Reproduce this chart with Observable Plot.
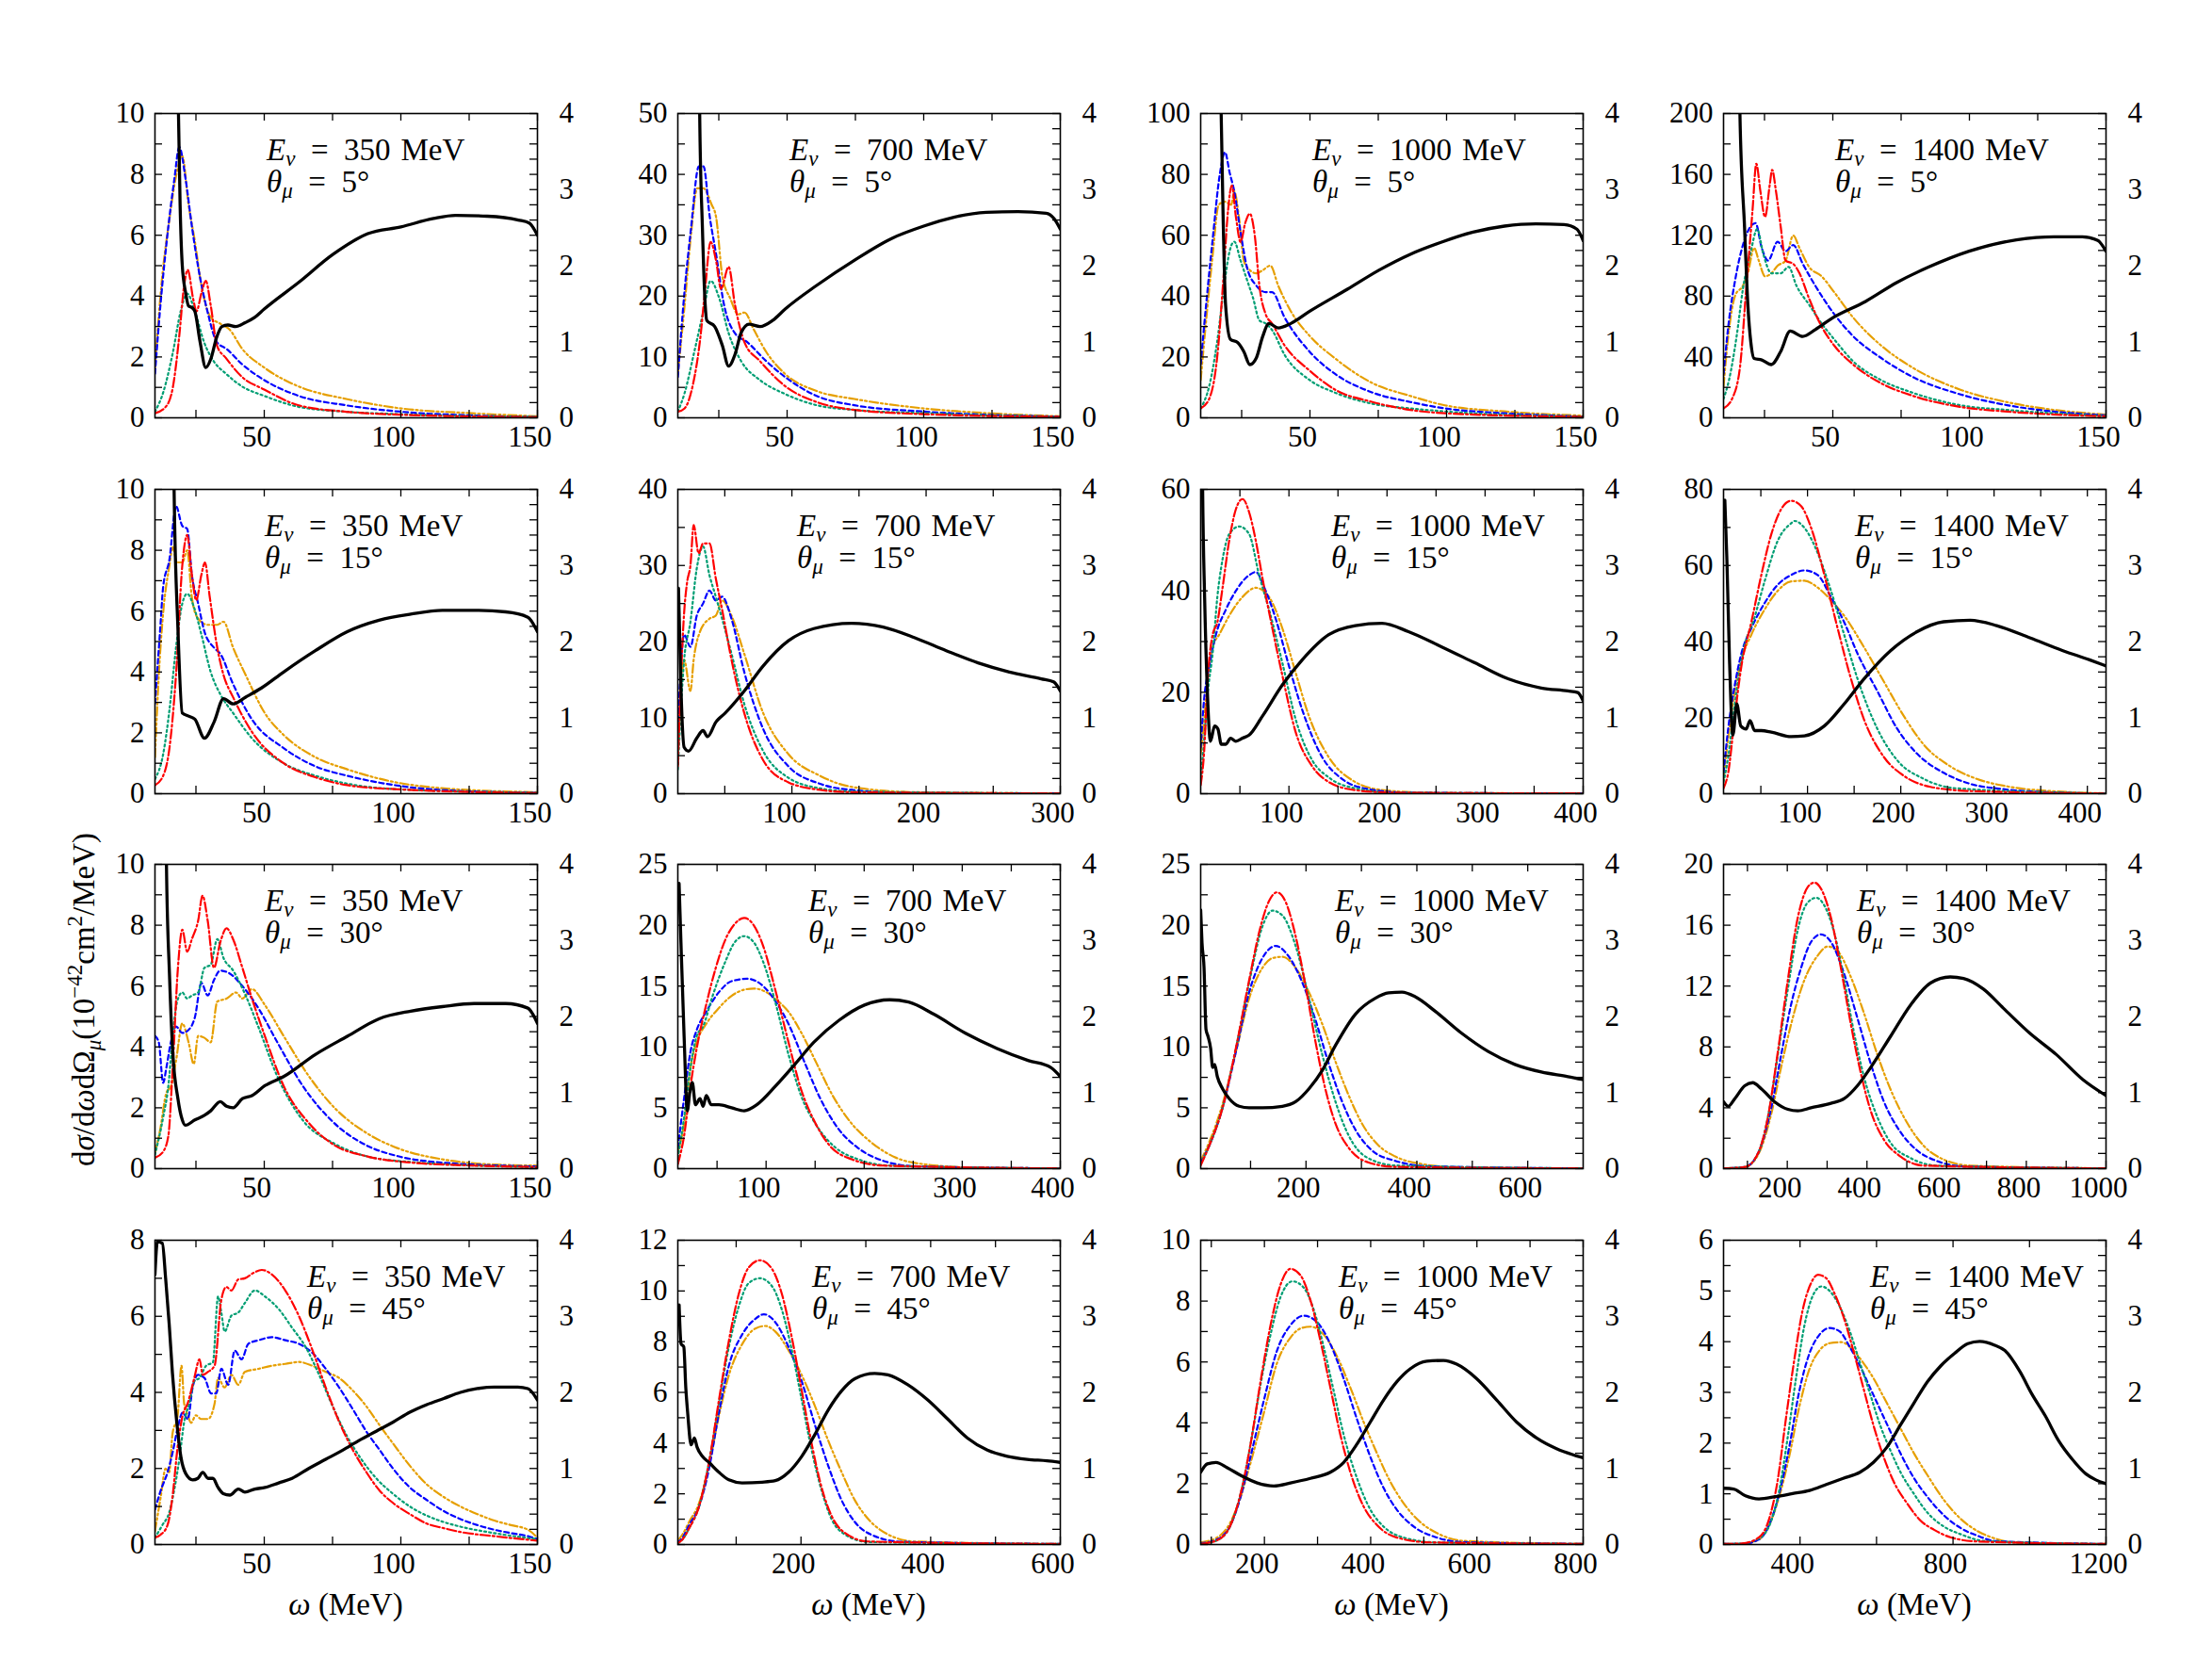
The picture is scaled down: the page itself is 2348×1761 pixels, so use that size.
<!DOCTYPE html>
<html><head><meta charset="utf-8">
<script src="https://cdn.jsdelivr.net/npm/d3@7"></script>
<script src="https://cdn.jsdelivr.net/npm/@observablehq/plot@0.6"></script>
<style>
html,body{margin:0;padding:0;background:#fff;}
#fig{position:relative;width:2348px;height:1761px;background:#fff;overflow:hidden;}
</style></head><body><div id="fig"></div>
<script>
// ---------------- categories ----------------
const energies = [350, 700, 1000, 1400];   // columns (MeV)
const angles = [5, 15, 30, 45];            // rows (degrees)

// ---------------- axis specs ----------------
const xDomains = [
  [[10,150],[10,150],[10,150],[10,150]],
  [[10,150],[15,300],[10,400],[10,420]],
  [[10,150],[10,400],[10,700],[40,1000]],
  [[10,150],[10,600],[80,800],[200,1200]]
];
const xMajor = [
  [[50,100,150],[50,100,150],[50,100,150],[50,100,150]],
  [[50,100,150],[100,200,300],[100,200,300,400],[100,200,300,400]],
  [[50,100,150],[100,200,300,400],[200,400,600],[200,400,600,800,1000]],
  [[50,100,150],[200,400,600],[200,400,600,800],[400,800,1200]]
];
const xMinor = [
  [[25,75,125],[25,75,125],[25,75,125],[25,75,125]],
  [[25,75,125],[50,150,250],[50,150,250,350],[50,150,250,350]],
  [[25,75,125],[50,150,250,350],[100,300,500],[100,300,500,700,900]],
  [[25,75,125],[100,300,500],[100,300,500,700],[600,1000]]
];
const yMax = [[10,50,100,200],[10,40,60,80],[10,25,25,20],[8,12,10,6]];
const yStep = [[2,10,20,40],[2,10,20,20],[2,5,5,4],[2,2,2,1]];
const rightTicks = [0,1,2,3,4];

// ---------------- series: [omega, value] ----------------
// row 1: theta = 5 deg
const E350_5_black = [[18.0,5.5],[18.6,4.0],[19.2,2.8],[20.0,2.0],[21.2,1.65],[22.3,1.47],[23.5,1.45],[24.6,1.4],[26.5,1.0],[28.6,0.66],[30.5,0.78],[32.5,1.05],[34.5,1.2],[36.7,1.22],[39.6,1.2],[43,1.25],[46.5,1.32],[50,1.43],[62.6,1.78],[75.2,2.15],[87.9,2.42],[100,2.51],[112,2.62],[120,2.66],[131.6,2.65],[143,2.6],[147,2.56],[150,2.4]];
const E350_5_orange = [[10,1.65],[12.5,4.5],[15.4,6.6],[17.5,7.85],[20,8.6],[22.3,7.0],[24.6,5.8],[27,4.35],[30.4,3.3],[33.8,3.1],[37.3,2.9],[41.9,2.27],[50,1.65],[62.6,1.03],[80,0.62],[100,0.31],[126,0.15],[150,0.05]];
const E350_5_blue = [[10,1.45],[12,3.7],[14.3,5.8],[17.1,7.85],[18.9,8.9],[21.2,7.85],[23.5,6.3],[25.8,4.96],[29.2,3.5],[32.7,2.48],[36.1,2.27],[41.9,1.76],[50,1.24],[62.6,0.72],[80,0.41],[100,0.2],[126,0.08],[150,0.02]];
const E350_5_red = [[10,0.15],[14.3,0.4],[16.6,1.03],[18.9,2.7],[20.6,4.3],[22,4.86],[24,3.9],[25.2,3.5],[27,4.1],[28.6,4.5],[30.4,3.7],[32.7,2.37],[36,1.96],[41.9,1.34],[50,0.93],[62.6,0.41],[80,0.2],[100,0.1],[150,0.02]];
const E350_5_teal = [[10,0.2],[13,0.83],[16.6,2.17],[19.4,3.5],[21.8,4.08],[24.6,3.5],[28,2.48],[31.5,1.86],[36,1.45],[41.9,1.03],[50,0.72],[62.6,0.36],[80,0.2],[100,0.12],[150,0.03]];

const E700_5_black = [[17.6,5.5],[18.0,4.0],[19.0,2.5],[20.0,1.5],[20.6,1.28],[23.5,1.2],[26.3,0.95],[28.6,0.68],[30.9,0.83],[33.2,1.12],[36.1,1.23],[40.1,1.2],[44.7,1.28],[49.3,1.43],[60.8,1.74],[74.6,2.07],[88.4,2.36],[100,2.52],[111.4,2.64],[123,2.7],[134.5,2.71],[144.8,2.69],[147.7,2.62],[150,2.48]];
const E700_5_orange = [[10,7.2],[12.5,18.6],[14.8,30],[17.1,37.7],[19.4,37.7],[22.3,35.1],[24,33],[26.3,23.2],[29.2,19.6],[32.1,17],[34.4,17.3],[37.8,14.5],[42.4,10.8],[49.3,7.2],[60.8,4.4],[74.6,3.1],[100,1.55],[123,0.77],[150,0.26]];
const E700_5_blue = [[10,6.7],[12.5,21],[14.8,31],[17.7,41.3],[19.4,41.3],[21.7,33],[24,26.9],[26.9,18.6],[30.9,13.9],[35.5,12.4],[42.4,9.3],[49.3,6.7],[60.8,3.6],[74.6,2.07],[100,1.03],[123,0.5],[150,0.2]];
const E700_5_red = [[10,1.0],[12.5,1.55],[15.4,5.2],[18.3,13.4],[20,21.2],[22,28.9],[24,25.8],[25.8,21.2],[28.6,24.8],[30.9,18.6],[34.4,12.4],[40.1,9.3],[49.3,5.2],[60.8,2.6],[74.6,1.3],[100,0.6],[150,0.15]];
const E700_5_teal = [[10,1.0],[12.5,4.1],[16,10.8],[19.4,17.6],[22,22.5],[25.2,19.6],[28.6,13.9],[33.2,9.3],[40.1,6.2],[49.3,3.9],[60.8,2.07],[74.6,1.3],[100,0.77],[150,0.15]];

const E1000_5_black = [[17.0,5.5],[17.5,4.0],[18.3,2.5],[19.1,1.49],[20.9,1.03],[23.5,0.99],[25.8,0.87],[28,0.7],[30.4,0.79],[32.7,1.07],[35,1.24],[38.4,1.18],[43,1.24],[49.9,1.4],[63.7,1.69],[75.2,1.94],[86.7,2.15],[98.2,2.31],[109.7,2.44],[121.2,2.52],[132.7,2.55],[143,2.54],[147.7,2.48],[150,2.33]];
const E1000_5_orange = [[10,12.4],[12,32],[14.3,52.7],[16.6,70],[18.9,71],[21.2,70],[22.3,74.4],[24,66],[25.8,51.6],[28,48.5],[30.4,47.5],[32.7,48.5],[35.5,50],[38.4,43.4],[43,35],[49.9,26.9],[59.1,19.6],[72.9,11.4],[86.7,7.2],[99.4,4.1],[121.2,2.1],[150,0.7]];
const E1000_5_blue = [[10,17.6],[12,37.2],[14.3,57.9],[17.1,80.6],[18.9,87.3],[20.6,80.6],[22.3,74.4],[24.6,61],[26.9,49.6],[30.4,43.4],[33.8,41.3],[36.1,41.3],[40.7,33],[49.9,21.7],[59.1,14.5],[72.9,8.3],[86.7,5.2],[99.4,3.1],[121.2,1.5],[150,0.4]];
const E1000_5_red = [[10,3.1],[13.1,6.2],[16,19.6],[18.3,45.5],[20,68],[21.4,76.4],[22.9,66],[24.6,57.8],[26.3,64],[28,67.1],[29.8,59.9],[31.5,43.4],[33.8,34],[36.1,31],[40.7,23.8],[49.9,15.5],[59.1,9.3],[72.9,5.2],[86.7,2.6],[99.4,1.5],[150,0.3]];
const E1000_5_teal = [[10,3.1],[13.1,10.3],[16,24.8],[18.9,45.5],[20.6,54.8],[22.3,57.9],[24.6,51.7],[26.9,45.5],[29.2,39.3],[31.5,32],[33.8,31],[36.1,28.9],[40.7,20.7],[49.9,12.4],[59.1,8.3],[72.9,4.6],[86.7,3.1],[99.4,2.1],[150,0.4]];

const E1400_5_black = [[15.5,5.5],[16,4.0],[17.7,2.5],[18.9,1.49],[20,0.99],[21.2,0.78],[24,0.76],[27.5,0.7],[30.9,0.87],[34.4,1.14],[39,1.07],[43.6,1.16],[49.3,1.3],[62,1.53],[73.5,1.78],[85,1.98],[99.9,2.19],[117.2,2.34],[131,2.38],[141.3,2.38],[147,2.33],[150,2.19]];
const E1400_5_orange = [[10,20.7],[12,57.9],[14.3,80.6],[17.1,86.8],[18.9,95],[21.2,111.6],[22.9,103.3],[25.2,93],[27.5,95],[29.8,100],[32.7,103.3],[35.5,119.8],[37.8,111.6],[41.3,99.2],[45.9,93],[50.5,82.6],[57.4,66],[67.7,47.5],[79.2,33],[96.5,18.6],[113.8,10.3],[131,5.2],[150,2.1]];
const E1400_5_blue = [[10,28.9],[12,64],[14.3,91],[17.1,113.6],[20,126],[21.7,128],[24,111.6],[26.3,103.3],[29.8,115.7],[32.7,109.5],[35.5,113.6],[39,101.2],[43.6,86.8],[50.5,68.2],[57.4,53.7],[67.7,39.3],[79.2,26.9],[96.5,15.5],[113.8,8.3],[131,4.1],[150,1.65]];
const E1400_5_red = [[10,6.2],[13.1,12.4],[16,33],[18.3,84.7],[20.6,136],[22,167],[23.5,148.8],[25.2,132],[26.9,153],[27.8,163],[29.2,148.8],[30.9,126],[32.7,103.3],[35.5,101.2],[37.8,95],[41.3,78.5],[45.9,60],[50.5,47.5],[57.4,35.1],[67.7,22.7],[79.2,14.5],[96.5,7.2],[113.8,4.1],[150,1]];
const E1400_5_teal = [[10,12.4],[12,24.8],[14.8,53.7],[17.1,84.7],[20,109.5],[22.3,124],[24.6,107.4],[27.5,95],[30.9,95],[33.8,99.2],[36.7,86.8],[41.3,74.4],[45.9,62],[50.5,51.6],[57.4,37.2],[67.7,24.8],[79.2,16.5],[96.5,8.3],[113.8,5.2],[150,1.2]];

// row 2: theta = 15 deg
const E350_15_black = [[16.5,5.5],[17,4.0],[18.4,2.17],[20,1.06],[22.3,1.02],[24.6,0.98],[28.1,0.73],[31.6,0.94],[35.1,1.25],[38.6,1.18],[43.2,1.27],[49,1.39],[57.1,1.6],[68.7,1.88],[80.4,2.13],[92,2.28],[103.6,2.36],[115.2,2.41],[126.8,2.41],[138.4,2.39],[146.5,2.32],[150,2.13]];
const E350_15_orange = [[10,1.2],[11.4,3.9],[13,5.95],[15.3,7.5],[16.5,8.1],[18.1,7.6],[20,7.6],[21.8,8.0],[23.5,6.45],[25.8,5.75],[29.3,5.55],[32.8,5.55],[35.1,5.65],[38.6,4.8],[43.2,3.9],[50.2,2.65],[57.1,1.93],[68.7,1.2],[80.4,0.8],[97.8,0.38],[115,0.18],[150,0.05]];
const E350_15_blue = [[10,2.96],[11.9,5.4],[13,6.8],[15.3,7.7],[17.7,9.45],[20,8.8],[21.8,8.7],[23.5,7.2],[25.8,6.25],[28.1,5.33],[31.6,4.8],[33.9,4.6],[38.6,3.6],[45.5,2.44],[57.1,1.5],[68.7,0.9],[80.4,0.59],[97.8,0.28],[115,0.12],[150,0.03]];
const E350_15_red = [[10,0.28],[13,0.59],[15.3,1.5],[17.7,3.9],[20,7.5],[21.8,8.5],[23.5,7.2],[25.1,6.36],[27,7.2],[28.3,7.6],[30,6.5],[32.8,4.8],[35.1,3.9],[38.6,3.17],[45.5,2.03],[57.1,1.0],[68.7,0.54],[80.4,0.28],[97.8,0.15],[150,0.02]];
const E350_15_teal = [[10,0.48],[13,1.3],[15.3,2.75],[17.7,4.8],[20,6.25],[21.8,6.57],[24.2,6.15],[27,5.23],[30.4,4.0],[33.9,3.27],[38.6,2.65],[45.5,1.82],[57.1,1.0],[68.7,0.59],[80.4,0.33],[97.8,0.15],[150,0.03]];

const E700_15_black = [[15.5,2.7],[17.4,1.35],[19.7,0.61],[23,0.56],[29.1,0.73],[33.8,0.83],[37.1,0.75],[43.3,0.94],[50.3,1.06],[64.5,1.35],[78.6,1.68],[97.4,2.01],[116.3,2.17],[144.5,2.24],[168,2.19],[191.6,2.05],[215,1.88],[238.7,1.72],[262,1.6],[285.8,1.51],[295,1.47],[300,1.35]];
const E700_15_orange = [[15,5.2],[19.7,17.6],[24.4,13.5],[26.8,17.6],[31.5,21.3],[38.6,23],[43.3,23.4],[48,25.4],[55,23.4],[64.5,18.4],[78.6,10.6],[97.4,5.2],[121,2.35],[144.5,0.9],[191.6,0.2],[300,0.04]];
const E700_15_blue = [[15,8.5],[19.7,20.9],[24.4,19.3],[29.1,23.4],[33.8,25],[38.6,26.7],[43.3,25.4],[48,25.9],[55,23],[64.5,16],[78.6,8.5],[97.4,3.6],[121,1.3],[144.5,0.5],[191.6,0.1],[300,0.04]];
const E700_15_red = [[15,3.6],[19.7,23.8],[22,27.9],[24.4,30],[26.8,35.3],[30.5,31.6],[33.8,32.9],[38.6,32.9],[43.3,28.3],[48,24.2],[55,17.6],[64.5,10.6],[78.6,4.4],[97.4,1.5],[121,0.5],[144.5,0.2],[300,0.04]];
const E700_15_teal = [[15,3.2],[19.7,17.6],[24.4,22.6],[29.1,29.6],[33.8,32.5],[38.6,28.7],[43.3,25.9],[48,23],[55,18.4],[64.5,11.8],[78.6,5.6],[97.4,2.1],[121,0.7],[144.5,0.3],[300,0.04]];

const E1000_15_black = [[11,5.5],[12,4.0],[14,2.59],[16.8,1.35],[20,0.69],[24.2,0.89],[27.6,0.85],[31,0.65],[35.7,0.65],[40.5,0.73],[45.9,0.69],[52.7,0.73],[59.4,0.77],[73,1.02],[93.3,1.43],[113.6,1.76],[140.6,2.09],[167.7,2.21],[194.8,2.24],[221.9,2.13],[255.8,1.93],[289.6,1.72],[323.5,1.51],[357.3,1.39],[384.4,1.35],[394.5,1.33],[400,1.22]];
const E1000_15_orange = [[10,7.9],[13.4,14],[17.4,23.3],[22.2,28.9],[29,31.4],[39.1,35.1],[52.7,38.8],[66.2,40.6],[79.7,38.8],[93.3,32.6],[106.8,23.9],[120.4,15.3],[140.6,7.2],[167.7,2.3],[194.8,0.74],[242,0.2],[400,0.05]];
const E1000_15_blue = [[10,9.1],[13.4,18.4],[18.8,25.2],[25.6,31.4],[35.7,36.3],[45.9,40],[59.4,43.1],[66.2,43.7],[76.3,40],[86.5,34.5],[100,25.2],[113.6,16.5],[133.9,7.2],[154.2,2.9],[181,0.9],[221.9,0.2],[400,0.05]];
const E1000_15_red = [[10,1.7],[13.4,7.9],[17.4,23.3],[22.2,31.4],[27,33.8],[32.3,40.6],[39.1,49.9],[45.9,56.1],[52.7,58.1],[59.4,55.5],[66.2,49.9],[73,42.5],[83.1,32.6],[93.3,23.3],[106.8,12.2],[123.7,5.4],[140.6,2.3],[167.7,0.7],[208,0.2],[400,0.05]];
const E1000_15_teal = [[10,2.9],[13.4,10.3],[17.4,20.2],[22.2,27.7],[27,38.8],[32.3,46.2],[39.1,51.2],[49.3,52.7],[59.4,51.2],[69.6,43.1],[79.7,36.3],[93.3,25.8],[106.8,14.7],[123.7,6.6],[140.6,3.2],[167.7,1.05],[208,0.2],[400,0.05]];

const E1400_15_black = [[11.4,3.86],[13.6,3.08],[16.4,1.76],[20,0.77],[24.2,1.18],[28.5,0.89],[34.2,0.85],[38.4,0.96],[43.4,0.83],[50.5,0.83],[61.2,0.81],[82.5,0.75],[96.7,0.76],[118,0.89],[139.3,1.18],[160.6,1.51],[189,1.88],[217.5,2.13],[245.9,2.26],[274.3,2.28],[302.8,2.21],[338.3,2.05],[373.8,1.88],[402.3,1.76],[420,1.68]];
const E1400_15_orange = [[10,3.9],[15,14.6],[22.1,27],[29.2,35.2],[39.8,41.8],[54,48.4],[68.3,53.4],[82.5,55.8],[96.7,56],[110.9,54.2],[125.1,50.9],[139.3,46.8],[160.6,38.5],[182,29.4],[203.3,20.4],[224.6,12.9],[253,7.2],[281.4,3.9],[316.9,1.8],[366.6,0.6],[420,0.1]];
const E1400_15_blue = [[10,5.5],[15,17.1],[22.1,28.6],[29.2,36.9],[39.8,43.5],[54,50.1],[68.3,55],[82.5,57.5],[96.7,58.7],[110.9,57.5],[125.1,51.7],[139.3,45.1],[153.5,36.9],[174.8,27],[196.1,17.1],[217.5,10.5],[245.9,5.5],[274.3,2.6],[309.8,1.2],[366.6,0.3],[420,0.05]];
const E1400_15_red = [[10,1.4],[15,5.5],[22.1,20.4],[29.2,33.6],[39.8,45.1],[50.5,57.5],[61.2,68.2],[71.8,74.8],[82.5,77],[93.2,75.6],[103.9,69.9],[118.1,57.5],[132.3,43.5],[146.5,30.3],[160.6,19.5],[182,9.6],[203.3,4.7],[231.8,1.8],[274.3,0.7],[420,0.05]];
const E1400_15_teal = [[10,3.1],[15,9.6],[22.1,23.7],[32.1,38.5],[42.7,45.9],[54,55.8],[68.3,66.6],[82.5,71.1],[86,71.7],[96.7,69.9],[110.9,63.3],[125.1,53.4],[139.3,41.8],[153.5,30.3],[174.8,17.1],[196.1,8.8],[224.6,3.9],[260,1.4],[420,0.05]];

// row 3: theta = 30 deg
const E350_30_black = [[13.8,5.5],[14.2,4.0],[15.3,2.56],[16.5,1.54],[18.4,0.92],[20,0.64],[21.1,0.57],[24.6,0.64],[28.1,0.7],[30.4,0.76],[33.9,0.88],[36.2,0.82],[38.6,0.8],[42,0.92],[45.5,0.96],[50.2,1.09],[57.1,1.21],[68.7,1.5],[80.4,1.74],[92,1.97],[103.6,2.07],[115.2,2.13],[126.8,2.17],[138.4,2.17],[146.5,2.11],[150,1.91]];
const E350_30_orange = [[10,0.51],[11.9,1.28],[14.2,2.5],[15.8,2.7],[17.7,3.54],[20,4.77],[22.3,4.15],[24.2,3.44],[25.8,4.36],[28.1,4.3],[30.4,4.15],[32.8,5.49],[36.2,5.59],[39.7,5.79],[42,5.59],[45.5,5.9],[50.2,5.38],[57.1,4.36],[66.4,3.03],[75.7,2.0],[87.3,1.18],[98.9,0.67],[115,0.31],[131,0.15],[150,0.1]];
const E350_30_blue = [[10,4.36],[11.4,4.15],[13,2.82],[14.2,3.33],[15.8,4.15],[17.7,4.67],[20,4.46],[22.3,4.56],[24.6,4.97],[27,6.1],[29.3,5.69],[31.6,6.2],[33.9,6.51],[37.4,6.41],[42,6.0],[47.8,5.28],[54.8,4.15],[64.1,2.72],[75.7,1.49],[87.3,0.77],[98.9,0.41],[115,0.2],[150,0.07]];
const E350_30_red = [[10,0.36],[13,0.56],[14.9,1.08],[16.5,3.33],[18.4,6.6],[20,7.85],[21.8,7.13],[23.5,7.54],[25.8,8.15],[27.4,8.97],[29.3,8.15],[31.6,6.6],[33.9,7.44],[36.2,7.9],[38.6,7.54],[42,6.6],[45.5,5.59],[50.2,4.36],[57.1,2.72],[66.4,1.49],[75.7,0.77],[87.3,0.41],[103.6,0.2],[127,0.1],[150,0.05]];
const E350_30_teal = [[10,0.46],[13,1.69],[14.9,2.72],[16.5,4.36],[18.1,5.49],[20,5.79],[21.8,5.59],[23.5,5.69],[25.8,5.79],[28.1,6.6],[30.4,6.7],[32.8,7.54],[35.1,6.92],[38.6,6.51],[43.2,5.69],[47.8,4.67],[54.8,3.03],[64.1,1.59],[75.7,0.82],[87.3,0.41],[103.6,0.22],[150,0.05]];

const E700_30_black = [[11.3,3.75],[13.2,2.97],[16.4,1.74],[19.7,0.76],[22.2,1.0],[24.8,1.13],[28,0.84],[32.6,0.92],[35.8,0.82],[39,0.96],[44.2,0.84],[51.9,0.84],[64.8,0.8],[77.7,0.76],[90.6,0.84],[110,1.09],[129.3,1.37],[148.6,1.66],[174.4,1.95],[200.2,2.15],[226,2.22],[245.3,2.19],[271,2.03],[303.3,1.78],[335.5,1.58],[367.7,1.42],[390.3,1.33],[400,1.21]];
const E700_30_orange = [[10,1.4],[16.4,3.7],[22.9,8.3],[29.3,10.4],[39,11.9],[51.9,13.2],[64.8,14.2],[77.7,14.7],[87.4,14.8],[100.2,14.5],[113.1,13.7],[122.8,12.9],[135.7,11.2],[151.8,8.6],[167.9,6],[187.3,3.7],[206.6,2.2],[232.4,0.9],[264.6,0.33],[316,0.08],[400,0.02]];
const E700_30_blue = [[10,1.7],[16.4,5.8],[22.9,9.6],[29.3,11.4],[39,12.9],[51.9,14.5],[64.8,15.4],[80.9,15.6],[97,15],[110,13.7],[122.8,11.9],[138.9,8.8],[155,5.8],[174.4,3.2],[193.7,1.7],[219.5,0.64],[251.7,0.2],[400,0.02]];
const E700_30_red = [[10,0.38],[16.4,2.7],[22.9,6.8],[29.3,9.9],[39,13.5],[48.7,16.5],[58.4,18.8],[68,20.1],[77.7,20.6],[87.4,20],[97,18.3],[110,14.5],[122.8,10.4],[135.7,6.5],[148.6,4],[164.7,1.9],[187.3,0.77],[219.5,0.25],[400,0.02]];
const E700_30_teal = [[10,0.9],[16.4,4.2],[22.9,8.3],[29.3,10.9],[35.8,11.7],[45.5,14.2],[58.4,17],[68,18.6],[77.7,19.1],[87.4,18.6],[97,17],[110,13.5],[122.8,9.4],[135.7,6],[151.8,3.5],[171.2,1.7],[193.7,0.77],[226,0.25],[400,0.02]];

const E1000_30_black = [[10,3.4],[12.4,2.97],[16,2.65],[19.6,1.83],[23.2,1.74],[28,1.58],[31.6,1.33],[35.2,1.37],[40,1.21],[49.5,1.05],[61.5,0.92],[79.5,0.82],[97.5,0.8],[121.4,0.8],[157.4,0.82],[181.3,0.88],[205.3,1.05],[229.2,1.29],[253.2,1.62],[289.1,2.03],[325,2.24],[349,2.31],[373,2.32],[397,2.26],[432.9,2.07],[480.8,1.78],[528.7,1.54],[576.7,1.37],[624.6,1.27],[672.5,1.21],[700,1.17]];
const E1000_30_orange = [[10,0.64],[25.6,2.2],[49.5,5.3],[73.5,9.6],[97.5,14],[121.4,16.5],[139.4,17.3],[157.4,17.4],[181.3,16.5],[205.3,14.5],[229.2,11.9],[253.2,8.8],[277.2,6],[301.1,3.7],[331,1.9],[361,1],[408.9,0.38],[480.8,0.1],[700,0.02]];
const E1000_30_blue = [[10,0.5],[25.6,1.9],[49.5,5],[73.5,9.6],[97.5,14.5],[121.4,17.3],[145.4,18.3],[169.3,17.4],[193.3,15.3],[217.2,12.2],[241.2,8.6],[265.2,5.5],[289.1,3.2],[319,1.5],[361,0.64],[420.9,0.2],[700,0.02]];
const E1000_30_red = [[10,0.26],[25.6,1.9],[49.5,5],[73.5,9.9],[97.5,15.5],[115.4,19.4],[133.4,22],[147.8,22.7],[163.4,21.9],[181.3,19.1],[199.3,15],[217.2,10.4],[235.2,6.5],[253.2,3.7],[277.2,1.7],[313,0.5],[361,0.15],[700,0.02]];
const E1000_30_teal = [[10,0.38],[25.6,1.9],[49.5,5],[73.5,9.9],[97.5,15.3],[121.4,19.9],[139.4,21.2],[157.4,20.8],[181.3,18.3],[205.3,14],[229.2,9.4],[253.2,5.5],[277.2,2.7],[307.1,1],[361,0.26],[700,0.02]];

const E1400_30_black = [[40,0.88],[51.6,0.82],[68.3,0.92],[93.2,1.09],[113.2,1.13],[134.8,1.05],[168,0.88],[201.4,0.78],[226.4,0.76],[259.6,0.8],[309.6,0.86],[342.8,0.92],[376,1.09],[409.4,1.33],[459.3,1.74],[509.2,2.15],[559.2,2.44],[609,2.52],[642.4,2.5],[692.3,2.36],[742.2,2.11],[808.8,1.78],[875.3,1.5],[941.9,1.17],[1000,0.96]];
const E1400_30_orange = [[40,0.02],[93,0.1],[126.5,0.9],[159.8,3.6],[184.8,6.7],[209.7,9.5],[243,12.4],[276.3,14],[301.2,14.6],[326.2,14.3],[359.5,12.6],[392.8,10.2],[426,7.5],[459.3,5.2],[501,3],[542.5,1.5],[592.5,0.6],[659,0.2],[1000,0.02]];
const E1400_30_blue = [[40,0.02],[93,0.1],[126.5,1],[159.8,4],[184.8,7.5],[209.7,10.8],[234.7,13.2],[259.6,14.9],[284.6,15.4],[309.6,14.9],[342.8,12.8],[376,9.9],[409.4,6.9],[442.6,4.4],[484.2,2.4],[525.8,1.2],[575.7,0.5],[642.4,0.15],[1000,0.02]];
const E1400_30_red = [[40,0.02],[93,0.1],[126.5,1],[151.5,3.4],[176.4,7.7],[201.4,12.4],[226.4,16.5],[251.3,18.5],[268,18.8],[284.6,18.4],[309.6,16.5],[334.5,13.2],[359.5,9.5],[384.4,6.3],[409.4,3.8],[442.6,1.9],[484.2,0.8],[542.5,0.2],[1000,0.02]];
const E1400_30_teal = [[40,0.02],[93,0.1],[126.5,1],[151.5,3.4],[176.4,7.5],[201.4,11.8],[226.4,15.7],[251.3,17.5],[273,17.8],[292.9,17.3],[317.9,15.5],[342.8,12.4],[367.8,8.9],[392.8,6],[426,3.4],[459.3,1.7],[509.2,0.7],[575.7,0.2],[1000,0.02]];

// row 4: theta = 45 deg
const E350_45_black = [[10,3.55],[10.9,3.98],[12.7,3.96],[13.9,3.5],[15.2,2.9],[16.4,2.25],[18,1.6],[19.5,1.15],[21.3,0.93],[23.8,0.85],[25.7,0.87],[27.5,0.95],[29.4,0.87],[31.2,0.87],[33.1,0.75],[35,0.67],[37.4,0.65],[40.5,0.73],[42.9,0.69],[46.6,0.73],[50.3,0.75],[55.3,0.81],[60.2,0.87],[66.3,1.0],[72.5,1.12],[78.7,1.24],[84.8,1.37],[91,1.49],[97.2,1.61],[103.3,1.74],[109.5,1.84],[115.7,1.92],[121.8,2.0],[128,2.05],[134.2,2.07],[142.8,2.07],[146.5,2.05],[150,1.9]];
const E350_45_orange = [[10,0.35],[12.1,1.25],[13.9,2.0],[15.2,1.9],[16.4,2.9],[18.3,3.4],[19.7,4.7],[20.7,3.7],[22,3.4],[23.2,3.2],[25,3.4],[26.9,3.3],[29.4,3.3],[31.8,3.7],[33.1,4.38],[35.5,4.13],[38,4.46],[40.5,4.2],[42.9,4.54],[47.9,4.62],[52.8,4.7],[57.7,4.75],[62.6,4.8],[67.6,4.7],[72.5,4.54],[77.4,4.38],[82.4,4.05],[87.3,3.64],[92.2,3.14],[97.2,2.65],[103.3,2.07],[109.5,1.58],[115.7,1.25],[121.8,1.0],[128,0.8],[134.2,0.63],[140.3,0.51],[146.5,0.39],[150,0.18]];
const E350_45_blue = [[10,0.92],[12.1,1.42],[14.6,1.9],[16.4,2.4],[18.3,3.06],[20.1,3.47],[22,3.3],[23.8,4.13],[25.7,4.46],[28.1,4.38],[30.6,3.97],[32.4,3.97],[34.3,4.62],[36.8,4.2],[39.2,5.1],[41.7,4.87],[44.2,5.28],[47.9,5.37],[52.8,5.45],[57.7,5.37],[62.6,5.28],[67.6,5.04],[72.5,4.62],[77.4,4.13],[82.4,3.56],[87.3,2.98],[92.2,2.49],[97.2,1.99],[103.3,1.5],[109.5,1.17],[115.7,0.88],[121.8,0.67],[128,0.51],[134.2,0.39],[140.3,0.3],[146.5,0.22],[150,0.14]];
const E350_45_red = [[10,0.18],[12.1,0.26],[14.6,0.51],[16.4,1.25],[18.3,2.57],[20.1,3.39],[22,3.72],[24.4,4.38],[26.3,4.87],[27.5,4.46],[29.4,4.54],[31.8,4.7],[34.3,6.44],[36.1,6.77],[38,6.68],[40.5,6.97],[42.9,7.0],[46,7.14],[49.1,7.22],[52.8,7.1],[57.7,6.68],[62.6,6.02],[67.6,5.12],[72.5,4.13],[77.4,3.23],[82.4,2.49],[87.3,1.91],[92.2,1.42],[97.2,1.09],[103.3,0.8],[109.5,0.55],[115.7,0.43],[121.8,0.33],[134.2,0.22],[150,0.1]];
const E350_45_teal = [[10,0.18],[12.7,0.51],[15.2,0.84],[17,1.42],[18.9,2.24],[20.7,3.23],[22.6,3.72],[24.4,4.3],[26.3,4.38],[28.7,4.7],[31.2,4.79],[33.1,6.52],[34.3,6.1],[35.5,5.6],[38,6.02],[40.5,6.1],[42.9,6.35],[46.6,6.68],[50.3,6.52],[55.3,6.19],[60.2,5.7],[65.1,5.2],[70.1,4.46],[75,3.64],[79.9,2.9],[84.8,2.32],[91,1.74],[97.2,1.33],[103.3,1.0],[109.5,0.76],[115.7,0.59],[121.8,0.47],[134.2,0.3],[150,0.14]];

const E700_45_black = [[12,3.15],[15,2.64],[19.2,2.6],[22.3,2.06],[25.3,1.72],[30.5,1.31],[35.6,1.4],[39.7,1.28],[47.8,1.16],[58,1.08],[73.4,0.95],[88.7,0.85],[109.2,0.81],[139.9,0.82],[160.3,0.84],[180.8,0.95],[201.2,1.16],[221.7,1.45],[242.1,1.77],[262.6,2.02],[283,2.18],[313.7,2.25],[334.1,2.23],[364.8,2.1],[395.5,1.9],[426.2,1.65],[456.8,1.4],[487.5,1.24],[518.2,1.16],[548.9,1.12],[579.5,1.1],[600,1.08]];
const E700_45_orange = [[10,0.15],[17.2,0.4],[27.4,0.89],[42.7,1.63],[58,3.1],[73.4,5.08],[88.7,6.68],[109.2,7.9],[129.6,8.52],[145,8.62],[160.3,8.4],[180.8,7.66],[201.2,6.68],[221.7,5.45],[242.1,4.09],[262.6,2.86],[283,1.75],[303.5,1.01],[334.1,0.4],[375,0.12],[600,0.02]];
const E700_45_blue = [[10,0.08],[17.2,0.27],[27.4,0.76],[42.7,1.5],[58,2.98],[73.4,5.2],[88.7,7.05],[109.2,8.28],[129.6,8.9],[142.9,9.08],[160.3,8.77],[180.8,7.79],[201.2,6.43],[221.7,4.7],[242.1,3.1],[262.6,1.75],[283,0.89],[313.7,0.33],[354.6,0.11],[600,0.02]];
const E700_45_red = [[10,0.05],[17.2,0.2],[27.4,0.64],[42.7,1.5],[58,3.23],[73.4,5.69],[88.7,8.03],[104,9.88],[119.4,10.93],[136.8,11.21],[155.2,10.87],[170.5,9.88],[185.9,8.16],[201.2,6.06],[216.5,3.97],[231.9,2.24],[247.2,1.13],[267.7,0.46],[303.5,0.12],[600,0.02]];
const E700_45_teal = [[10,0.05],[17.2,0.2],[27.4,0.64],[42.7,1.5],[58,3.23],[73.4,5.57],[88.7,7.79],[104,9.39],[119.4,10.31],[136.8,10.5],[155.2,10.19],[170.5,9.26],[185.9,7.66],[201.2,5.69],[216.5,3.72],[231.9,2.12],[247.2,1.0],[267.7,0.4],[303.5,0.1],[600,0.02]];

const E1000_45_black = [[80,0.95],[92.5,1.06],[108.8,1.08],[130,1.01],[155.1,0.91],[186.4,0.81],[217.7,0.77],[249,0.81],[286.6,0.87],[324.1,0.95],[349.2,1.08],[374.2,1.32],[399.3,1.61],[424.3,1.9],[449.3,2.14],[474.4,2.31],[505.7,2.41],[537,2.42],[562,2.37],[599.6,2.18],[637.2,1.9],[674.7,1.61],[712.3,1.4],[749.8,1.26],[781.1,1.18],[800,1.14]];
const E1000_45_orange = [[80,0.07],[111,0.23],[136.3,0.74],[155,1.56],[174,2.69],[199,4.33],[224,5.98],[249,6.8],[267.8,7.1],[286.6,7.16],[311.6,6.9],[336.7,6.18],[361.7,5.16],[386.7,4.03],[411.8,3.0],[436.8,2.07],[461.9,1.36],[493.2,0.74],[524.5,0.38],[574.6,0.12],[800,0.02]];
const E1000_45_blue = [[80,0.04],[111,0.17],[136.3,0.64],[155,1.56],[174,2.9],[199,4.74],[224,6.39],[249,7.21],[274,7.52],[299,7.31],[324,6.59],[349,5.46],[374,4.13],[399,2.9],[424,1.87],[449,1.15],[481,0.59],[524.5,0.23],[574.6,0.08],[800,0.02]];
const E1000_45_red = [[80,0.02],[111,0.14],[136.3,0.64],[155,1.66],[174,3.31],[192.7,5.36],[211.5,7.21],[230.3,8.54],[249,9.06],[267.8,8.85],[286.6,8.03],[305.4,6.7],[324.1,5.16],[342.9,3.61],[361.7,2.38],[386.7,1.25],[411.8,0.64],[449.3,0.23],[511.9,0.07],[800,0.02]];
const E1000_45_teal = [[80,0.02],[111,0.14],[136.3,0.64],[155,1.66],[174,3.31],[192.7,5.26],[211.5,6.9],[230.3,8.13],[252.8,8.65],[274,8.44],[292.8,7.72],[311.6,6.49],[330.4,5.05],[349.2,3.61],[374.2,2.18],[399.3,1.15],[424.3,0.59],[461.9,0.23],[524.5,0.07],[800,0.02]];

const E1400_45_black = [[200,0.74],[226.4,0.73],[257.3,0.64],[292.5,0.6],[336.6,0.63],[380.6,0.67],[424.7,0.71],[468.7,0.79],[512.8,0.87],[556.8,0.95],[592,1.08],[627.3,1.28],[662.5,1.57],[697.8,1.86],[733,2.14],[768.2,2.35],[803.5,2.51],[838.7,2.64],[869.6,2.67],[909.2,2.62],[935.6,2.55],[975.3,2.27],[1006,1.98],[1041.4,1.69],[1076.6,1.36],[1111.8,1.12],[1147,0.93],[1173.5,0.85],[1200,0.8]];
const E1400_45_orange = [[200,0.01],[248,0.01],[292.5,0.1],[319,0.38],[345.4,0.94],[371.8,1.74],[398.2,2.72],[424.7,3.46],[451.1,3.83],[477.5,3.97],[508.4,3.99],[539.2,3.83],[565.6,3.58],[592,3.28],[618.5,2.91],[644.9,2.54],[671.3,2.17],[697.8,1.8],[733,1.37],[777.1,0.87],[821.1,0.5],[865.2,0.26],[909.2,0.12],[962,0.04],[1200,0.01]];
const E1400_45_blue = [[200,0.01],[248,0.01],[292.5,0.1],[319,0.38],[345.4,1.0],[371.8,1.92],[398.2,3.03],[424.7,3.77],[451.1,4.14],[477.5,4.27],[504,4.2],[530.4,3.89],[556.8,3.52],[583.2,3.09],[609.6,2.66],[636.1,2.23],[662.5,1.8],[697.8,1.31],[733,0.94],[777.1,0.57],[821.1,0.32],[865.2,0.17],[909.2,0.07],[1200,0.01]];
const E1400_45_red = [[200,0.01],[248,0.02],[292.5,0.14],[319,0.5],[341,1.24],[363.1,2.48],[385.1,3.65],[407.1,4.63],[429.2,5.16],[446.8,5.32],[468.7,5.25],[490.8,4.94],[512.8,4.51],[539.2,3.83],[565.6,3.09],[592,2.35],[618.5,1.73],[644.9,1.24],[680.1,0.81],[715.4,0.47],[750.6,0.29],[794.7,0.14],[865.2,0.06],[1200,0.01]];
const E1400_45_teal = [[200,0.01],[248,0.02],[292.5,0.12],[323.4,0.44],[345.4,1.06],[367.5,2.1],[389.5,3.28],[411.5,4.32],[433.6,4.91],[455.6,5.09],[477.5,5.0],[504,4.69],[530.4,4.2],[556.8,3.58],[583.2,2.97],[609.6,2.35],[636.1,1.86],[662.5,1.43],[697.8,1.0],[733,0.63],[777.1,0.35],[821.1,0.2],[882.8,0.07],[1200,0.01]];

// lookup built from the named arrays
const D = {
  E350_5:{orange:E350_5_orange,blue:E350_5_blue,teal:E350_5_teal,red:E350_5_red,black:E350_5_black},
  E700_5:{orange:E700_5_orange,blue:E700_5_blue,teal:E700_5_teal,red:E700_5_red,black:E700_5_black},
  E1000_5:{orange:E1000_5_orange,blue:E1000_5_blue,teal:E1000_5_teal,red:E1000_5_red,black:E1000_5_black},
  E1400_5:{orange:E1400_5_orange,blue:E1400_5_blue,teal:E1400_5_teal,red:E1400_5_red,black:E1400_5_black},
  E350_15:{orange:E350_15_orange,blue:E350_15_blue,teal:E350_15_teal,red:E350_15_red,black:E350_15_black},
  E700_15:{orange:E700_15_orange,blue:E700_15_blue,teal:E700_15_teal,red:E700_15_red,black:E700_15_black},
  E1000_15:{orange:E1000_15_orange,blue:E1000_15_blue,teal:E1000_15_teal,red:E1000_15_red,black:E1000_15_black},
  E1400_15:{orange:E1400_15_orange,blue:E1400_15_blue,teal:E1400_15_teal,red:E1400_15_red,black:E1400_15_black},
  E350_30:{orange:E350_30_orange,blue:E350_30_blue,teal:E350_30_teal,red:E350_30_red,black:E350_30_black},
  E700_30:{orange:E700_30_orange,blue:E700_30_blue,teal:E700_30_teal,red:E700_30_red,black:E700_30_black},
  E1000_30:{orange:E1000_30_orange,blue:E1000_30_blue,teal:E1000_30_teal,red:E1000_30_red,black:E1000_30_black},
  E1400_30:{orange:E1400_30_orange,blue:E1400_30_blue,teal:E1400_30_teal,red:E1400_30_red,black:E1400_30_black},
  E350_45:{orange:E350_45_orange,blue:E350_45_blue,teal:E350_45_teal,red:E350_45_red,black:E350_45_black},
  E700_45:{orange:E700_45_orange,blue:E700_45_blue,teal:E700_45_teal,red:E700_45_red,black:E700_45_black},
  E1000_45:{orange:E1000_45_orange,blue:E1000_45_blue,teal:E1000_45_teal,red:E1000_45_red,black:E1000_45_black},
  E1400_45:{orange:E1400_45_orange,blue:E1400_45_blue,teal:E1400_45_teal,red:E1400_45_red,black:E1400_45_black}
};

// ---------------- layout & styles ----------------
const FW = 406, FH = 323;
const colLeft = [164, 719, 1274, 1829];
const rowTop = [120, 519, 917, 1316];
const ML = 80, MR = 70, MT = 30, MB = 48;
const annoX = [[119,119,119,119],[117,127,139,140],[117,139,143,142],[162,143,147,156]];
const FONT = "'Liberation Serif', 'DejaVu Serif', serif";
const fmt = d => String(d);
const lineStyles = {
  orange: {stroke: "#e69f00", strokeDasharray: "9,3,2,3,2,3"},
  blue:   {stroke: "#0000ff", strokeDasharray: "5,3.5"},
  teal:   {stroke: "#009e73", strokeDasharray: "2,3.2"},
  red:    {stroke: "#ff0000", strokeDasharray: "10,3,2,3"}
};

const fig = document.getElementById("fig");
function place(svg, left, top) {
  svg.style.position = "absolute";
  svg.style.left = left + "px";
  svg.style.top = top + "px";
  svg.style.maxWidth = "none";
  svg.style.background = "transparent";
  svg.style.overflow = "visible";
  fig.appendChild(svg);
}

for (let r = 0; r < 4; r++) {
  for (let c = 0; c < 4; c++) {
    const s = D[`E${energies[c]}_${angles[r]}`];
    const xd = xDomains[r][c];
    const ym = yMax[r][c], ys = yStep[r][c];
    const yMaj = d3.range(0, ym + ys * 1e-6, ys);
    const yMin = d3.range(0, ym + ys * 1e-6, ys / 2);
    const xt = xMajor[r][c].concat(xMinor[r][c]);
    const common = {
      width: ML + FW + MR, height: MT + FH + MB,
      marginLeft: ML, marginRight: MR, marginTop: MT, marginBottom: MB,
      style: {background: "transparent", overflow: "visible", fontFamily: FONT, fontSize: "31px", color: "#000"}
    };
    const A = Plot.plot({
      ...common,
      x: {domain: xd},
      y: {domain: [0, ym]},
      marks: [
        ...["orange", "blue", "teal", "red"].map(k =>
          Plot.line(s[k], {x: d => d[0], y: d => d[1], curve: "monotone-x", clip: true, strokeWidth: 2.2, ...lineStyles[k]})),
        Plot.tickY(yMin, {y: d => d, insetRight: FW - 8, stroke: "#000", strokeWidth: 1.3}),
        Plot.tickX(xt, {x: d => d, insetTop: FH - 8, stroke: "#000", strokeWidth: 1.3}),
        Plot.tickX(xt, {x: d => d, insetBottom: FH - 8, stroke: "#000", strokeWidth: 1.3}),
        Plot.axisY(yMaj, {anchor: "left", tickSize: 0, tickPadding: 11, tickFormat: fmt, fontSize: 31, fontFamily: FONT, label: null}),
        Plot.axisX(xMajor[r][c], {anchor: "bottom", tickSize: 0, tickPadding: 8, dx: -8, tickFormat: fmt, fontSize: 31, fontFamily: FONT, label: null}),
        Plot.frame({stroke: "#000", strokeWidth: 1.6})
      ]
    });
    // annotation
    const g = d3.select(A).append("g").attr("font-family", FONT).attr("font-size", 33)
      .attr("fill", "#000").attr("text-anchor", "start");
    const ax = ML + annoX[r][c];
    const t1 = g.append("text").attr("x", ax).attr("y", MT + 50);
    t1.append("tspan").attr("font-style", "italic").text("E");
    t1.append("tspan").attr("font-style", "italic").attr("font-size", 23).attr("dy", 6).text("ν");
    t1.append("tspan").attr("dy", -6).text(`\u2002=\u2002${energies[c]}\u2004MeV`);
    const t2 = g.append("text").attr("x", ax).attr("y", MT + 84);
    t2.append("tspan").attr("font-style", "italic").text("θ");
    t2.append("tspan").attr("font-style", "italic").attr("font-size", 23).attr("dy", 6).text("μ");
    t2.append("tspan").attr("dy", -6).text(`\u2002=\u2002${angles[r]}°`);
    place(A, colLeft[c] - ML, rowTop[r] - MT);

    const B = Plot.plot({
      ...common,
      x: {domain: xd, axis: null},
      y: {domain: [0, 4]},
      marks: [
        Plot.line(s.black, {x: d => d[0], y: d => d[1], curve: "monotone-x", clip: true, stroke: "#000", strokeWidth: 3.3}),
        Plot.tickY(d3.range(0, 4.0001, 0.2), {y: d => d, insetLeft: FW - 8, stroke: "#000", strokeWidth: 1.3}),
        Plot.axisY(rightTicks, {anchor: "right", tickSize: 0, tickPadding: 23, tickFormat: fmt, fontSize: 31, fontFamily: FONT, label: null})
      ]
    });
    place(B, colLeft[c] - ML, rowTop[r] - MT);
  }
}

// ---------------- shared axis titles ----------------
const ov = d3.create("svg").attr("width", 2348).attr("height", 1761)
  .attr("font-family", FONT).attr("fill", "#000");
const yl = ov.append("text").attr("font-size", 33).attr("text-anchor", "middle")
  .attr("transform", "translate(100,1061) rotate(-90)");
yl.append("tspan").text("d");
yl.append("tspan").attr("font-style", "italic").text("σ");
yl.append("tspan").text("/d");
yl.append("tspan").attr("font-style", "italic").text("ω");
yl.append("tspan").text("dΩ");
yl.append("tspan").attr("font-style", "italic").attr("font-size", 23).attr("dy", 7).text("μ");
yl.append("tspan").attr("dy", -7).text("(10");
yl.append("tspan").attr("font-size", 23).attr("dy", -13).text("−42");
yl.append("tspan").attr("dy", 13).text("cm");
yl.append("tspan").attr("font-size", 23).attr("dy", -13).text("2");
yl.append("tspan").attr("dy", 13).text("/MeV)");
for (let c = 0; c < 4; c++) {
  const xl = ov.append("text").attr("font-size", 33).attr("text-anchor", "middle")
    .attr("x", colLeft[c] + FW / 2).attr("y", 1714);
  xl.append("tspan").attr("font-style", "italic").text("ω");
  xl.append("tspan").text(" (MeV)");
}
const ovn = ov.node();
ovn.style.position = "absolute"; ovn.style.left = "0px"; ovn.style.top = "0px";
ovn.style.pointerEvents = "none";
fig.appendChild(ovn);
</script></body></html>
